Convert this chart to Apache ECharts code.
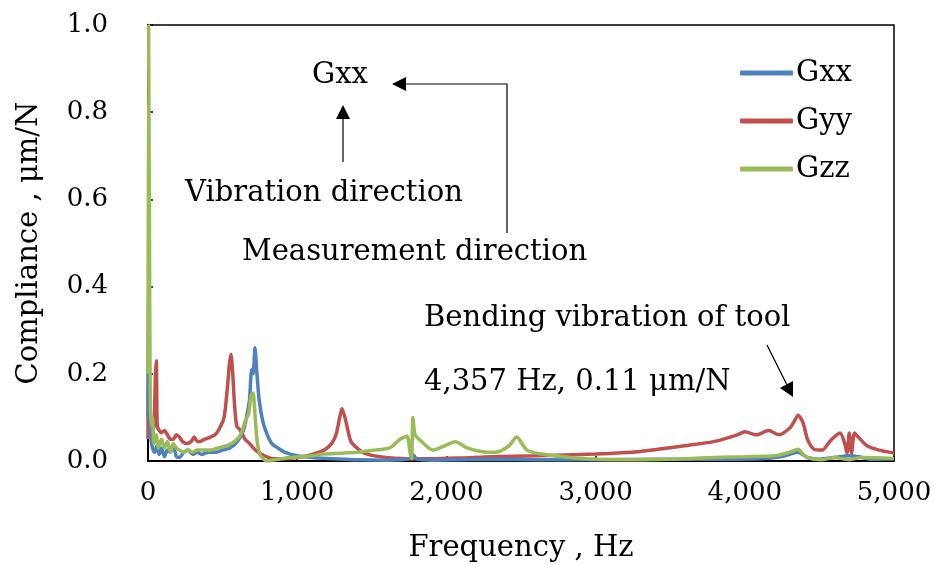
<!DOCTYPE html>
<html>
<head>
<meta charset="utf-8">
<script src="https://cdn.jsdelivr.net/npm/echarts@6/dist/echarts.min.js"></script>
<style>
html,body{margin:0;padding:0;background:#fff;}
#chart{width:934px;height:565px;}
</style>
</head>
<body>
<div id="chart"></div>
<script>
// ---- data (frequency in Hz, compliance in µm/N) ----
var seriesNames = ['Gxx', 'Gyy', 'Gzz'];
var xTicks = [0, 1000, 2000, 3000, 4000, 5000];
var yTicks = [0, 0.2, 0.4, 0.6, 0.8, 1.0];

var gxxFreq = [0,5,10,20,30,45,60,75,90,110,130,150,170,190,210,240,270,300,330,360,400,450,500,550,600,640,660,680,695,705,717,730,745,770,800,830,870,920,1000,1100,1200,1400,1600,1750,1776,1800,1900,2100,2300,2600,3000,3400,3800,4100,4250,4357,4420,4500,4600,4700,4760,4850,5000];
var gxxVal  = [0.1,0.52,0.12,0.05,0.03,0.02,0.035,0.015,0.03,0.01,0.025,0.02,0.035,0.01,0.008,0.02,0.025,0.015,0.02,0.015,0.02,0.02,0.025,0.03,0.045,0.07,0.1,0.14,0.21,0.2,0.26,0.2,0.14,0.09,0.06,0.04,0.03,0.02,0.012,0.008,0.006,0.003,0.002,0.005,0.015,0.005,0.002,0.003,0.004,0.003,0.003,0.004,0.004,0.005,0.01,0.02,0.008,0.004,0.008,0.012,0.01,0.004,0.005];

var gyyFreq = [0,3,12,25,40,50,56,62,75,90,110,130,150,170,190,210,230,260,290,310,330,350,380,420,450,480,510,530,545,556,568,580,595,620,650,680,720,780,850,900,1000,1100,1180,1230,1260,1285,1300,1320,1340,1360,1400,1450,1550,1700,1900,2100,2300,2600,3000,3300,3600,3800,3950,4000,4080,4160,4230,4300,4330,4357,4390,4420,4460,4520,4570,4638,4670,4685,4700,4715,4735,4760,4820,4900,5000];
var gyyVal  = [0.05,0.3,0.1,0.07,0.08,0.2,0.23,0.08,0.07,0.065,0.07,0.06,0.05,0.05,0.06,0.055,0.045,0.04,0.045,0.055,0.045,0.045,0.05,0.055,0.06,0.075,0.1,0.16,0.22,0.245,0.2,0.13,0.08,0.07,0.05,0.04,0.025,0.012,0.005,0.005,0.008,0.015,0.025,0.04,0.06,0.1,0.12,0.1,0.07,0.045,0.03,0.018,0.01,0.006,0.005,0.007,0.01,0.012,0.016,0.022,0.035,0.045,0.06,0.067,0.06,0.07,0.06,0.075,0.09,0.105,0.088,0.05,0.028,0.025,0.045,0.064,0.04,0.018,0.064,0.018,0.064,0.055,0.035,0.025,0.018];

var gzzFreq = [0,4,10,15,22,30,40,55,70,90,110,130,150,170,190,210,240,270,300,330,370,420,470,530,580,620,650,675,690,704,715,730,750,775,800,850,950,1100,1170,1300,1400,1500,1620,1690,1736,1756,1766,1776,1790,1823,1910,1990,2060,2138,2230,2330,2420,2470,2540,2640,2860,3000,3300,3600,3800,4000,4200,4300,4357,4400,4450,4520,4600,4700,4780,5000];
var gzzVal  = [0.2,1.0,0.5,0.15,0.08,0.1,0.04,0.06,0.03,0.05,0.03,0.045,0.02,0.04,0.03,0.025,0.02,0.025,0.02,0.025,0.025,0.025,0.03,0.035,0.045,0.06,0.09,0.11,0.15,0.156,0.117,0.05,0.015,0.004,0.0,0.003,0.008,0.012,0.016,0.018,0.02,0.024,0.03,0.05,0.057,0.02,0.005,0.1,0.06,0.048,0.025,0.035,0.044,0.03,0.022,0.02,0.035,0.055,0.025,0.016,0.007,0.004,0.003,0.005,0.008,0.01,0.012,0.02,0.027,0.012,0.005,0.003,0.008,0.003,0.008,0.006];

function pairs(xs, ys) { return xs.map(function (x, i) { return [x, ys[i]]; }); }

var FONT = 'DejaVu Serif';
var TXT = '29px "DejaVu Serif"';
var colors = ['#4F81BD', '#C0504D', '#9BBB59'];
var chart = echarts.init(document.getElementById('chart'), null, {renderer: 'canvas'});

function mkSeries(name, data, color, z) {
  return {
    name: name, type: 'line', data: data, showSymbol: false, smooth: 0.25,
    lineStyle: {color: color, width: 3.5}, itemStyle: {color: color}, z: z, animation: false
  };
}
function label(x, y, text) {
  return {type: 'text', x: x, y: y, style: {text: text, font: TXT, fill: '#000', align: 'left', verticalAlign: 'middle'}};
}

var black = '#000';
var option = {
  animation: false,
  textStyle: {fontFamily: FONT, color: black},
  grid: {left: 148, right: 40, top: 25, bottom: 104, containLabel: false, outerBoundsMode: 'none',
    show: true, borderColor: black, borderWidth: 1.5, backgroundColor: 'transparent'},
  legend: {
    orient: 'vertical', left: 740, top: 57, padding: 0, itemWidth: 53, itemHeight: 5, itemGap: 16,
    icon: 'roundRect',
    data: seriesNames,
    textStyle: {fontFamily: FONT, fontSize: 29, color: black, lineHeight: 32, padding: [0, 0, 0, -2]}
  },
  xAxis: {
    type: 'value', min: xTicks[0], max: xTicks[xTicks.length - 1], interval: 1000,
    name: 'Frequency , Hz', nameLocation: 'middle', nameGap: 73,
    nameTextStyle: {fontFamily: FONT, fontSize: 29, color: black},
    axisLine: {show: true, lineStyle: {color: black, width: 2}},
    axisTick: {show: true, inside: true, length: 5, lineStyle: {color: black, width: 1.5}},
    axisLabel: {fontFamily: FONT, fontSize: 26, color: black, margin: 19,
      formatter: function (v) { return v.toString().replace(/\B(?=(\d{3})+(?!\d))/g, ','); }},
    splitLine: {show: false}
  },
  yAxis: {
    type: 'value', min: yTicks[0], max: yTicks[yTicks.length - 1], interval: 0.2,
    name: 'Compliance , μm/N', nameLocation: 'middle', nameGap: 104,
    nameTextStyle: {fontFamily: FONT, fontSize: 29, color: black},
    axisLine: {show: true, lineStyle: {color: black, width: 2}},
    axisTick: {show: true, inside: true, length: 5, lineStyle: {color: black, width: 1.5}},
    axisLabel: {fontFamily: FONT, fontSize: 26, color: black, margin: 40,
      formatter: function (v) { return v.toFixed(1); }},
    splitLine: {show: false}
  },
  series: [
    mkSeries(seriesNames[0], pairs(gxxFreq, gxxVal), colors[0], 3),
    mkSeries(seriesNames[1], pairs(gyyFreq, gyyVal), colors[1], 2),
    mkSeries(seriesNames[2], pairs(gzzFreq, gzzVal), colors[2], 4)
  ],
  graphic: [
    label(312, 75, 'Gxx'),
    {type: 'line', shape: {x1: 343, y1: 162, x2: 343, y2: 117}, style: {stroke: black, lineWidth: 1.2}},
    {type: 'polygon', shape: {points: [[343, 105], [336, 119], [350, 119]]}, style: {fill: black}},
    label(185, 193, 'Vibration direction'),
    label(242, 252, 'Measurement direction'),
    {type: 'polyline', shape: {points: [[507, 233], [507, 84], [404, 84]]}, style: {stroke: black, lineWidth: 1.2, fill: null}},
    {type: 'polygon', shape: {points: [[392, 84], [406, 77], [406, 91]]}, style: {fill: black}},
    label(424, 318, 'Bending vibration of tool'),
    label(424, 382, '4,357 Hz, 0.11 μm/N'),
    {type: 'line', shape: {x1: 767, y1: 345, x2: 787, y2: 385}, style: {stroke: black, lineWidth: 1.2}},
    {type: 'polygon', shape: {points: [[793, 397], [780, 388], [793, 381]]}, style: {fill: black}}
  ]
};
chart.setOption(option);
</script>
</body>
</html>
